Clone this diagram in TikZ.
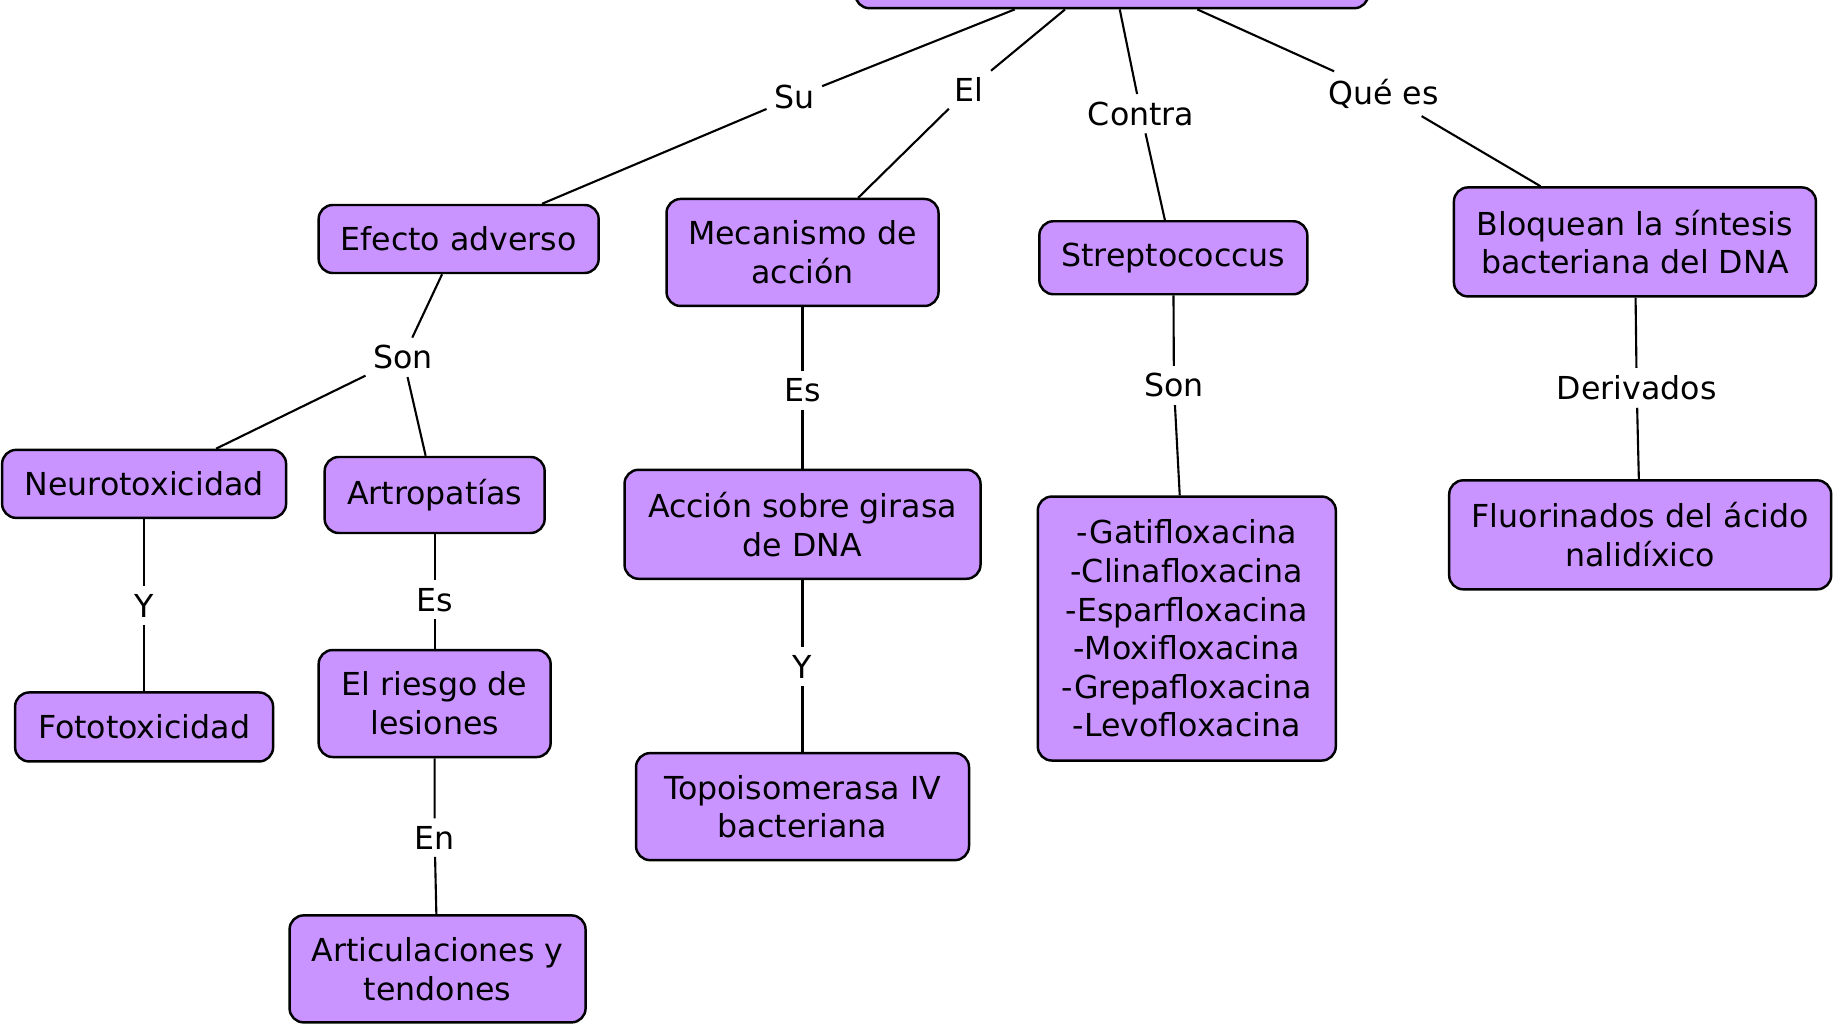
\documentclass[tikz,border=0pt]{standalone}
\usepackage{fontspec}
\setmainfont{DejaVu Sans}
\usepackage{xcolor}
\usepackage{tikz}
\definecolor{conceptfill}{HTML}{C994FF}

\begin{document}
\begin{tikzpicture}[x=1.1716mm, y=-1.1716mm,
    concept/.style={shape=rectangle, rounded corners=4pt, draw, line width=0.7pt,
      fill=conceptfill, align=center, inner sep=2pt, font={\fontsize{9pt}{11pt}\selectfont}},
    link/.style={fill=white, inner sep=2pt, font={\fontsize{9pt}{11pt}\selectfont}}]
    \useasboundingbox (0,0) rectangle (156.8,87.4);

    \node[concept, minimum width=5.13cm, minimum height=0.75cm] (top) at (94.9,-2.5) {};

    \node[concept, minimum width=2.80cm, minimum height=0.68cm] (efecto) at (39.15,20.4) {Efecto adverso};
    \node[concept, minimum width=2.72cm, minimum height=1.07cm] (mecan) at (68.5,21.55) {Mecanismo de\\acción};
    \node[concept, minimum width=2.68cm, minimum height=0.73cm] (strep) at (100.15,22.0) {Streptococcus};
    \node[concept, minimum width=3.62cm, minimum height=1.09cm] (bloq) at (139.55,20.65) {Bloquean la síntesis\\bacteriana del DNA};

    \node[concept, minimum width=2.84cm, minimum height=0.68cm] (neuro) at (12.3,41.3) {Neurotoxicidad};
    \node[concept, minimum width=2.20cm, minimum height=0.76cm] (artro) at (37.1,42.25) {Artropatías};
    \node[concept, minimum width=2.58cm, minimum height=0.69cm] (foto) at (12.3,62.05) {Fototoxicidad};
    \node[concept, minimum width=2.32cm, minimum height=1.07cm] (riesgo) at (37.1,60.05) {El riesgo de\\lesiones};
    \node[concept, minimum width=2.96cm, minimum height=1.07cm] (artic) at (37.35,82.7) {Articulaciones y\\tendones};
    \node[concept, minimum width=3.56cm, minimum height=1.09cm] (accion) at (68.5,44.75) {Acción sobre girasa\\de DNA};
    \node[concept, minimum width=3.33cm, minimum height=1.07cm] (topo) at (68.5,68.85) {Topoisomerasa IV\\bacteriana};
    \node[concept, minimum width=2.98cm, minimum height=2.64cm] (gati) at (101.3,53.65)
      {-Gatifloxacina\\-Clinafloxacina\\-Esparfloxacina\\-Moxifloxacina\\-Grepafloxacina\\-Levofloxacina};
    \node[concept, minimum width=3.82cm, minimum height=1.09cm] (fluor) at (140.0,45.65) {Fluorinados del ácido\\nalidíxico};

    \node[link] (su) at (67.8,8.3) {Su};
    \node[link] (el) at (82.7,7.6) {El};
    \node[link] (contra) at (97.4,9.7) {Contra};
    \node[link] (quees) at (118.1,8.0) {Qué es};
    \node[link] (son1) at (34.4,30.5) {Son};
    \node[link] (es1) at (68.5,33.3) {Es};
    \node[link] (son2) at (100.2,32.9) {Son};
    \node[link] (deriv) at (139.7,33.1) {Derivados};
    \node[link] (y1) at (12.3,51.7) {Y};
    \node[link] (es2) at (37.1,51.2) {Es};
    \node[link] (y2) at (68.5,56.9) {Y};
    \node[link] (en) at (37.1,71.5) {En};

    \draw[line width=0.6pt] (top) -- (su) -- (efecto);
    \draw[line width=0.6pt] (top) -- (el) -- (mecan);
    \draw[line width=0.6pt] (top) -- (contra) -- (strep);
    \draw[line width=0.6pt] (top) -- (quees) -- (bloq);
    \draw[line width=0.6pt] (efecto) -- (son1) -- (neuro);
    \draw[line width=0.6pt] (son1) -- (artro);
    \draw[line width=0.6pt] (neuro) -- (y1) -- (foto);
    \draw[line width=0.6pt] (artro) -- (es2) -- (riesgo);
    \draw[line width=0.6pt] (riesgo) -- (en) -- (artic);
    \draw[line width=0.6pt] (mecan) -- (es1) -- (accion);
    \draw[line width=0.6pt] (accion) -- (y2) -- (topo);
    \draw[line width=0.6pt] (strep) -- (son2) -- (gati);
    \draw[line width=0.6pt] (bloq) -- (deriv) -- (fluor);
\end{tikzpicture}
\end{document}
